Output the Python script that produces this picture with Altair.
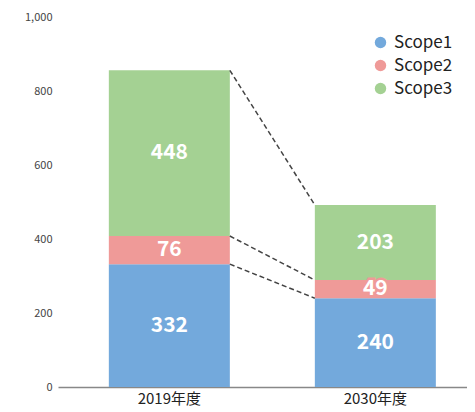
import altair as alt
import pandas as pd

categories = ["2019年度", "2030年度"]
scopes = ["Scope1", "Scope2", "Scope3"]
scope1 = [332, 240]
scope2 = [76, 49]
scope3 = [448, 203]
colors = ["#73a9dc", "#ef9a98", "#a4d193"]
y_ticks = [0, 200, 400, 600, 800, 1000]

rows = []
for i, c in enumerate(categories):
    base = 0
    for k, (s, vals) in enumerate(zip(scopes, [scope1, scope2, scope3])):
        v = vals[i]
        rows.append({"cat": c, "scope": s, "order": k, "value": v,
                     "y0": base, "y1": base + v, "mid": base + v / 2})
        base += v
df = pd.DataFrame(rows)

# dashed connectors between matching segment boundaries of the two bars
conn = []
for k in range(3):
    a = float(df[(df.cat == categories[0]) & (df.order == k)].y1.iloc[0])
    b = float(df[(df.cat == categories[1]) & (df.order == k)].y1.iloc[0])
    conn.append({"from": categories[0], "to": categories[1], "ya": a, "yb": b})
cdf = pd.DataFrame(conn)

font = "Noto Sans CJK JP"

xscale = alt.Scale(domain=categories, paddingInner=0.4126, paddingOuter=0.199, align=0.62)
yscale = alt.Scale(domain=[0, 1000], nice=False)
cscale = alt.Scale(domain=scopes, range=colors)

bars = alt.Chart(df).mark_bar().encode(
    x=alt.X("cat:N", scale=xscale, sort=categories,
            axis=alt.Axis(title=None, labelAngle=0, labelFontSize=15, labelColor="#222",
                          labelFont=font, ticks=False, domainColor="#888", domainWidth=1.5,
                          labelPadding=4)),
    y=alt.Y("y0:Q", scale=yscale,
            axis=alt.Axis(title=None, values=y_ticks, format=",d", grid=False, domain=False,
                          ticks=False, labelFontSize=11, labelColor="#444", labelFont=font,
                          labelPadding=6)),
    y2="y1:Q",
    color=alt.Color("scope:N", scale=cscale,
                    legend=alt.Legend(title=None, orient="none", legendX=314, legendY=17,
                                      symbolType="circle", symbolSize=130, symbolStrokeWidth=0,
                                      labelFontSize=17, labelFont=font, labelColor="#222",
                                      rowPadding=5, labelOffset=5, padding=0)),
)

halo = alt.Chart(df).mark_text(fontSize=21, fontWeight="bold", font=font,
                               baseline="middle", strokeWidth=5).encode(
    x=alt.X("cat:N", scale=xscale, sort=categories),
    y=alt.Y("mid:Q", scale=yscale),
    text="value:Q",
    stroke=alt.Stroke("scope:N", scale=cscale, legend=None),
)

text = alt.Chart(df).mark_text(color="white", fontSize=21, fontWeight="bold", font=font,
                               baseline="middle").encode(
    x=alt.X("cat:N", scale=xscale, sort=categories),
    y=alt.Y("mid:Q", scale=yscale),
    text="value:Q",
)

lines = alt.Chart(cdf).mark_rule(strokeDash=[5, 3], color="#444", strokeWidth=1.5).encode(
    x=alt.X("from:N", scale=xscale, bandPosition=1),
    x2=alt.X2("to:N", bandPosition=0),
    y=alt.Y("ya:Q", scale=yscale),
    y2="yb:Q",
)

chart = alt.layer(bars, lines, halo, text).properties(
    width=409, height=370,
    autosize=alt.AutoSizeParams(type="none"),
    padding={"left": 50, "top": 9, "right": 0, "bottom": 25},
).configure(font=font, view=alt.ViewConfig(stroke=None))

chart.save("out.html", embed_options={"renderer": "svg", "actions": False})
